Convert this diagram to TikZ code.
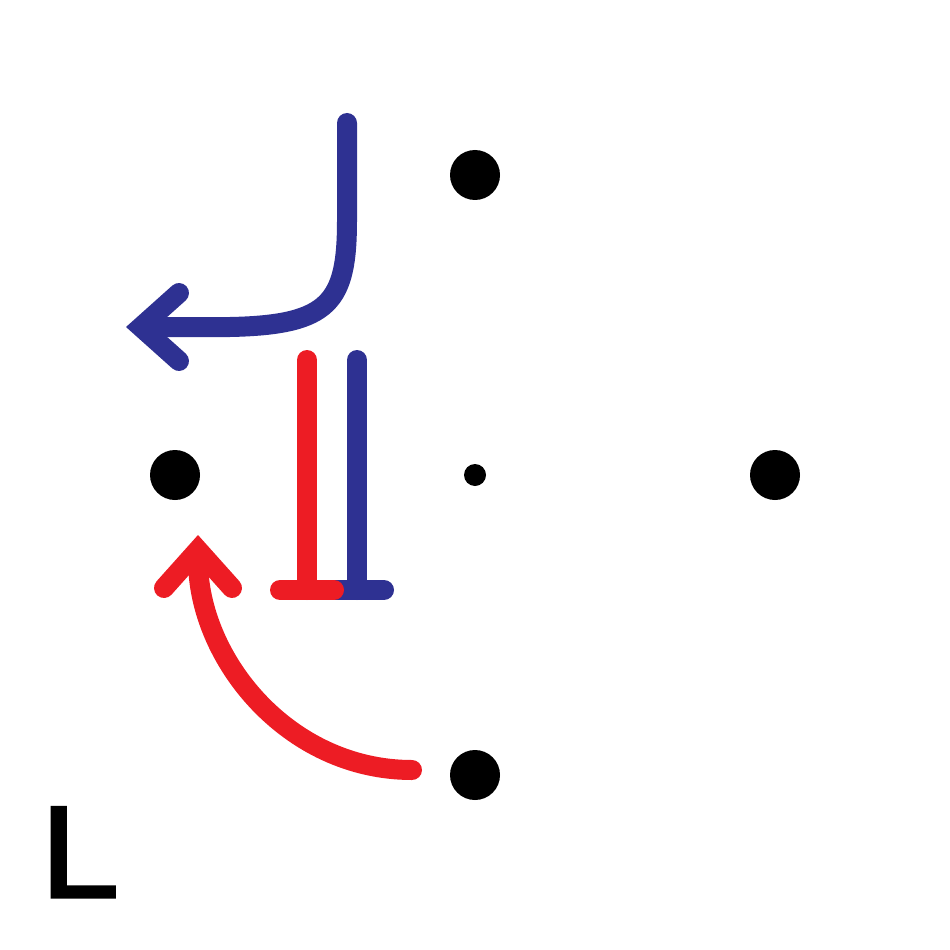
\documentclass[tikz,border=0pt]{standalone}
\usepackage{fontspec}
\setsansfont{Liberation Sans}
\newfontfamily\labelfont[FakeBold=2.5, FakeStretch=1.08]{Liberation Sans}
\usetikzlibrary{arrows.meta,calc}
\definecolor{actblue}{RGB}{46,49,146}
\definecolor{actred}{RGB}{237,28,36}

\begin{document}
\begin{tikzpicture}[
  x=1cm, y=-1cm,
  dot/.style={circle, fill=black, inner sep=0pt, minimum size=5mm},
  smalldot/.style={dot, minimum size=2.2mm},
  arr/.style={draw, line width=2mm, line cap=round,
              -{Straight Barb[length=3.8mm, width=6.8mm, line join=miter, line cap=round]}},
  bar/.style={draw, line width=2mm, line cap=round}
]
\useasboundingbox (0,0) rectangle (9.5,9.5);
\node[dot] (top) at (4.75,1.75) {};
\node[dot] (lft) at (1.75,4.75) {};
\node[smalldot] (ctr) at (4.75,4.75) {};
\node[dot] (rgt) at (7.75,4.75) {};
\node[dot] (bot) at (4.75,7.75) {};

% inhibition bars
\coordinate (bt) at (3.57,3.60);
\coordinate (bb) at (3.57,5.90);
\coordinate (rt) at (3.07,3.60);
\coordinate (rb) at (3.07,5.90);
\draw[bar, actblue] (bt) -- (bb) ($(bb)+(-0.27,0)$) -- ($(bb)+(0.27,0)$);
\draw[bar, actred] (rt) -- (rb) ($(rb)+(-0.27,0)$) -- ($(rb)+(0.27,0)$);

% activation arrows
\coordinate (bs) at (3.47,1.23);
\coordinate (be) at (1.26,3.27);
\draw[arr, actblue] (bs) -- (3.47,2.20) .. controls (3.47,3.02) and (3.30,3.25) .. (2.30,3.27) -- (be);
\coordinate (rs) at (4.12,7.70);
\coordinate (re) at (1.98,5.35);
\draw[arr, actred] (rs) to[out=180,in=-90] (re);

\node[anchor=base west, inner sep=0pt,
      font=\labelfont\fontsize{37}{37}\selectfont] (lbl) at (0.40,8.97) {L};
\end{tikzpicture}
\end{document}
